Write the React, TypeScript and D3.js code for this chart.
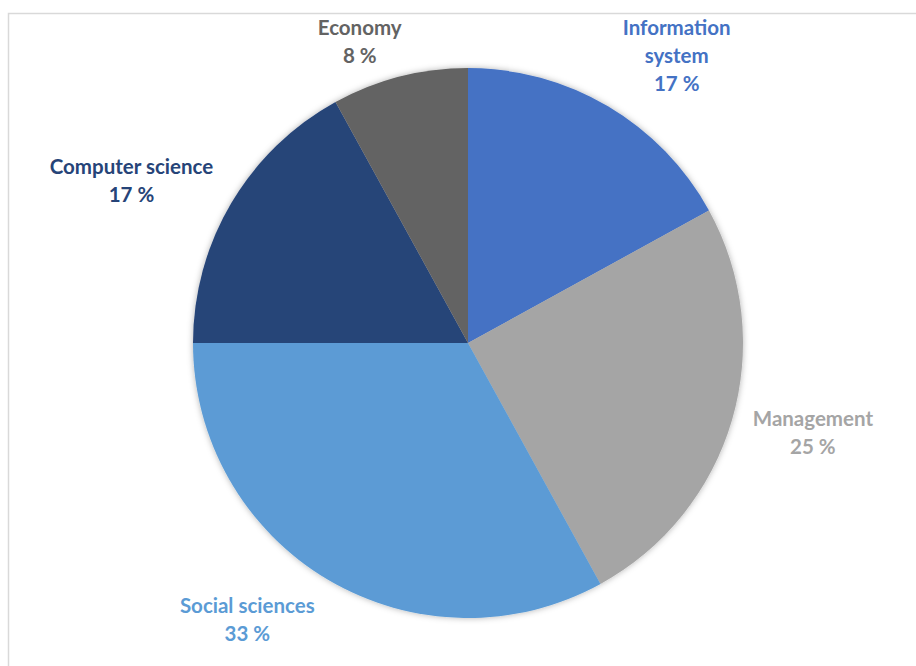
import React from "react";
import * as d3 from "d3";

const categories = ["Information system", "Management", "Social sciences", "Computer science", "Economy"];
const values = [17, 25, 33, 17, 8];
const percentLabels = ["17 %", "25 %", "33 %", "17 %", "8 %"];
const labelLines = [["Information", "system"], ["Management"], ["Social sciences"], ["Computer science"], ["Economy"]];
const colors = ["#4472C4", "#A5A5A5", "#5B9BD5", "#264478", "#636363"];

const W = 916;
const H = 666;
const CX = 468;
const CY = 343;
const R = 275;
const LABEL_R = 355;
// layout nudges for label placement (px)
const labelNudge: Record<string, [number, number]> = {
  "Information system": [28, 18],
  Management: [4, -9],
  "Social sciences": [-40, -29],
  "Computer science": [-31, 19],
  Economy: [-20, 43],
};

export default function App() {
  const data = categories.map((c, i) => ({ c, v: values[i], i }));
  const pie = d3.pie<any>().value((d) => d.v).sort(null);
  const arcs = pie(data);
  const arc = d3.arc<any>().innerRadius(0).outerRadius(R);
  const labelArc = d3.arc<any>().innerRadius(LABEL_R).outerRadius(LABEL_R);
  const lineH = 28;
  return (
    <svg width={W} height={H} style={{ position: "absolute", left: 0, top: 0 }} fontFamily="Lato, 'Open Sans', sans-serif">
      <defs>
        <filter id="sh" x="-20%" y="-20%" width="140%" height="140%">
          <feDropShadow dx="0" dy="0" stdDeviation="3" floodColor="#000" floodOpacity="0.3" />
        </filter>
      </defs>
      <rect x={0} y={0} width={W} height={H} fill="#fff" />
      <rect x={8.5} y={13.5} width={W} height={H} fill="none" stroke="#d9d9d9" strokeWidth={1.5} />
      <g transform={`translate(${CX},${CY})`}>
        <g filter="url(#sh)">
          {arcs.map((a, i) => (
            <path key={i} d={arc(a) as string} fill={colors[i]} />
          ))}
        </g>
        {arcs.map((a, i) => {
          const [x, y] = labelArc.centroid(a);
          const [nx, ny] = labelNudge[categories[i]];
          const lines = [...labelLines[i], percentLabels[i]];
          const cx = x + nx;
          const cy = y + ny;
          const top = cy - ((lines.length - 1) * lineH) / 2;
          return (
            <text key={i} textAnchor="middle" fill={colors[i]} fontWeight="bold" fontSize={20.5}>
              {lines.map((l, j) => (
                <tspan key={j} x={cx} y={top + j * lineH} dy="0.35em">
                  {l}
                </tspan>
              ))}
            </text>
          );
        })}
      </g>
    </svg>
  );
}
